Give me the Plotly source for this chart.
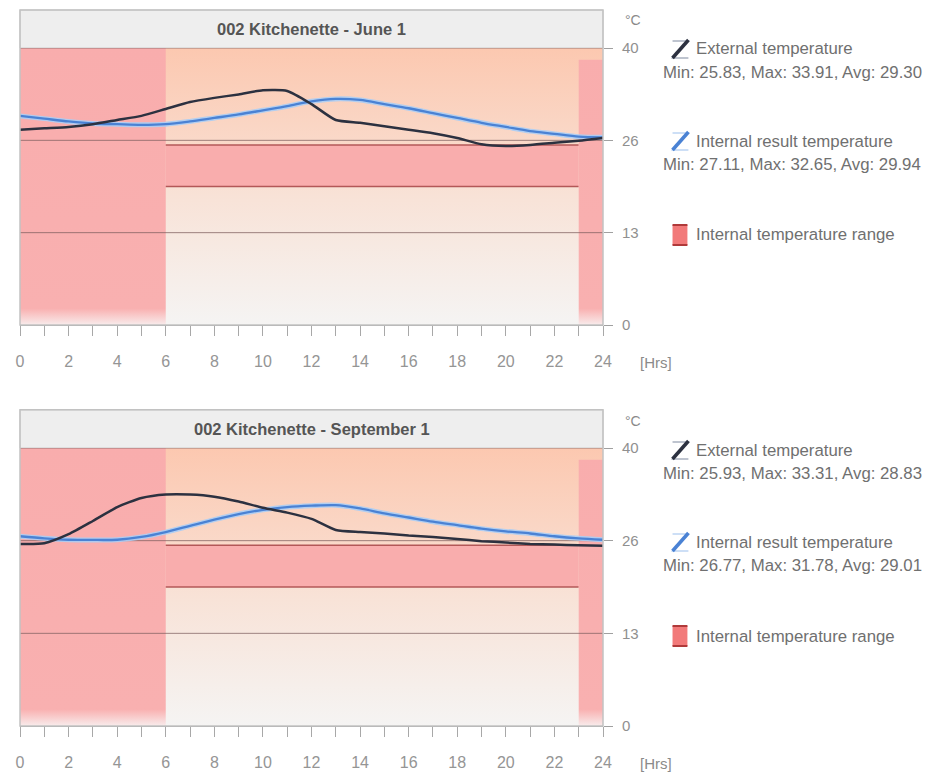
import plotly.graph_objects as go

# ---------------- data ----------------
HOURS = list(range(25))
EXT_JUNE = [28.2, 28.4, 28.6, 29.0, 29.6, 30.2, 31.2, 32.2, 32.8, 33.3, 33.9, 33.8, 31.9,
            29.6, 29.2, 28.7, 28.2, 27.7, 27.0, 26.1, 25.85, 26.0, 26.3, 26.6, 27.0]
INT_JUNE = [30.2, 29.8, 29.4, 29.1, 29.0, 28.9, 29.0, 29.4, 29.9, 30.4, 31.0, 31.6, 32.3,
            32.65, 32.5, 31.9, 31.3, 30.6, 29.9, 29.2, 28.6, 28.0, 27.6, 27.2, 27.1]
EXT_SEP = [26.2, 26.3, 27.6, 29.5, 31.5, 32.8, 33.3, 33.3, 33.0, 32.3, 31.4, 30.7, 29.8,
           28.2, 27.9, 27.7, 27.4, 27.2, 26.9, 26.6, 26.4, 26.2, 26.1, 26.0, 25.93]
INT_SEP = [27.3, 27.0, 26.8, 26.77, 26.8, 27.2, 27.9, 28.8, 29.7, 30.5, 31.1, 31.5, 31.7,
           31.78, 31.3, 30.6, 30.0, 29.4, 28.9, 28.4, 28.0, 27.7, 27.3, 27.0, 26.8]

RANGE_SEG_START = [0, 6, 23]
RANGE_SEG_END = [6, 23, 24]
RANGE_LOW = [0, 20, 0]
RANGE_HIGH = [40, 26, 38.3]

Y_MAX = 40
Y_TICKVALS = [0, 40 / 3, 80 / 3, 40]
Y_TICKTEXT = ["0", "13", "26", "40"]
X_TICKVALS = list(range(0, 25, 2))

PANELS = [
    dict(title="002 Kitchenette - June 1", ext=EXT_JUNE, intl=INT_JUNE,
         ext_stats="Min: 25.83, Max: 33.91, Avg: 29.30",
         int_stats="Min: 27.11, Max: 32.65, Avg: 29.94"),
    dict(title="002 Kitchenette - September 1", ext=EXT_SEP, intl=INT_SEP,
         ext_stats="Min: 25.93, Max: 33.31, Avg: 28.83",
         int_stats="Min: 26.77, Max: 31.78, Avg: 29.01"),
]

# ---------------- style ----------------
FONT = "Liberation Sans, Arial, sans-serif"
PINK = "#f9adad"
W, H = 932, 778
# page body has an 8px margin; margins are chosen so the plot area lands
# at page x 16..603 and page y 48..726
ML, MR, MT, MB = 8, 337, 40, 60
PW, PH = W - ML - MR, H - MT - MB


def PX(px):
    return (px - 8 - ML) / PW


def PY(py):
    return (H - MB - (py - 8)) / PH


fig = go.Figure()
domains = [[PY(325), 1.0], [0.0, PY(448)]]
offsets = [0, 401]

shapes = []
annotations = []

for i, p in enumerate(PANELS):
    xa = "x" if i == 0 else "x2"
    ya = "y" if i == 0 else "y2"
    xn = "xaxis" if i == 0 else "xaxis2"
    yn = "yaxis" if i == 0 else "yaxis2"
    off = offsets[i]

    # background gradient
    x0, x1 = RANGE_SEG_START[0], RANGE_SEG_END[-1]
    fig.add_trace(go.Scatter(
        x=[x0, x1, x1, x0, x0], y=[0, 0, Y_MAX, Y_MAX, 0], fill="toself", mode="none",
        fillgradient=dict(type="vertical", start=0, stop=Y_MAX,
                          colorscale=[[0, "#f5f4f3"], [0.45, "#f8e3d8"], [1, "#fcc8b0"]]),
        xaxis=xa, yaxis=ya, hoverinfo="skip", showlegend=False))

    # internal temperature range bands
    for s, e, lo, hi in zip(RANGE_SEG_START, RANGE_SEG_END, RANGE_LOW, RANGE_HIGH):
        if lo == 0:
            fg = dict(type="vertical", start=0, stop=Y_MAX,
                      colorscale=[[0, "#f8ecec"], [0.06, "#f9b0b0"], [1, PINK]])
            fig.add_trace(go.Scatter(
                x=[s, e, e, s, s], y=[lo, lo, hi, hi, lo], fill="toself", mode="none",
                fillgradient=fg, xaxis=xa, yaxis=ya, hoverinfo="skip", showlegend=False))
        else:
            fig.add_trace(go.Scatter(
                x=[s, e, e, s, s], y=[lo, lo, hi, hi, lo], fill="toself", mode="none",
                fillcolor=PINK, xaxis=xa, yaxis=ya, hoverinfo="skip", showlegend=False))
            for v in (lo, hi):
                fig.add_trace(go.Scatter(
                    x=[s, e], y=[v, v], mode="lines",
                    line=dict(color="#b35858", width=1.5),
                    xaxis=xa, yaxis=ya, hoverinfo="skip", showlegend=False))

    # grid lines
    for v in Y_TICKVALS[1:]:
        fig.add_trace(go.Scatter(
            x=[x0, x1], y=[v, v], mode="lines",
            line=dict(color="rgba(125,95,95,0.75)", width=1),
            xaxis=xa, yaxis=ya, hoverinfo="skip", showlegend=False))

    # internal result temperature (with halo)
    fig.add_trace(go.Scatter(
        x=HOURS, y=p["intl"], mode="lines",
        line=dict(color="rgba(170,205,245,0.9)", width=5, shape="spline", smoothing=0.8),
        xaxis=xa, yaxis=ya, hoverinfo="skip", showlegend=False))
    fig.add_trace(go.Scatter(
        x=HOURS, y=p["intl"], mode="lines", name="Internal result temperature",
        line=dict(color="#4a82d4", width=2.3, shape="spline", smoothing=0.8),
        xaxis=xa, yaxis=ya, showlegend=False))
    # external temperature
    fig.add_trace(go.Scatter(
        x=HOURS, y=p["ext"], mode="lines", name="External temperature",
        line=dict(color="#2c3140", width=2.5, shape="spline", smoothing=0.6),
        xaxis=xa, yaxis=ya, showlegend=False))

    # axes
    fig.update_layout(**{
        xn: dict(domain=[0, 1], range=[0, 24], anchor=ya, showgrid=False, zeroline=False,
                 showline=True, linecolor="#a0a0a0", linewidth=1,
                 tickvals=X_TICKVALS, ticks="outside", ticklen=10, tickcolor="#a8a8a8",
                 ticklabelstandoff=12,
                 tickfont=dict(family=FONT, size=16, color="#959595"),
                 minor=dict(dtick=1, tick0=0, ticks="outside", ticklen=10, tickcolor="#a8a8a8"),
                 fixedrange=True),
        yn: dict(domain=domains[i], range=[0, Y_MAX], anchor=xa, side="right",
                 showgrid=False, zeroline=False, showline=False,
                 tickvals=Y_TICKVALS, ticktext=Y_TICKTEXT, ticks="outside", ticklen=9,
                 tickcolor="#a0a0a0", ticklabelstandoff=6,
                 tickfont=dict(family=FONT, size=15, color="#909090"), fixedrange=True),
    })

    band_top = 1 + 38 / 277
    # title band
    shapes.append(dict(type="rect", xref=f"{xa} domain", yref=f"{ya} domain",
                       x0=0, x1=1, y0=1, y1=band_top, fillcolor="#eeeeee",
                       line=dict(color="#cfcfcf", width=1), layer="below"))
    # frame
    shapes.append(dict(type="rect", xref=f"{xa} domain", yref=f"{ya} domain",
                       x0=0, x1=1, y0=0, y1=band_top, fillcolor="rgba(0,0,0,0)",
                       line=dict(color="#c2c2c2", width=1.5), layer="above"))
    annotations.append(dict(text=p["title"], xref=f"{xa} domain", yref=f"{ya} domain",
                            x=0.5, y=(1 + band_top) / 2, showarrow=False,
                            font=dict(family=FONT, size=16.5, color="#555555", weight="bold"),
                            xanchor="center", yanchor="middle"))
    # unit and axis label
    annotations.append(dict(text="°C", xref="paper", yref="paper", x=PX(623), y=PY(20 + off),
                            showarrow=False, xanchor="left", yanchor="middle",
                            font=dict(family=FONT, size=14, color="#8a8a8a")))
    annotations.append(dict(text="[Hrs]", xref="paper", yref="paper", x=PX(638), y=PY(362 + off),
                            showarrow=False, xanchor="left", yanchor="middle",
                            font=dict(family=FONT, size=15, color="#8a8a8a")))

    # legend
    leg = [(49, "External temperature", p["ext_stats"], "#2c3140", "#7f8aa0"),
           (141, "Internal result temperature", p["int_stats"], "#4a82d4", "#9cc0ee")]
    for yc, label, stats, dark, light in leg:
        yc = yc + off
        shapes.append(dict(type="path", xref="paper", yref="paper",
                           path=f"M {PX(673)},{PY(yc-8)} L {PX(689)},{PY(yc-8)} L {PX(673)},{PY(yc+9)} L {PX(689)},{PY(yc+9)}",
                           line=dict(color=light, width=1.2)))
        shapes.append(dict(type="line", xref="paper", yref="paper",
                           x0=PX(673), y0=PY(yc + 9), x1=PX(689), y1=PY(yc - 9),
                           line=dict(color=dark, width=3.5)))
        annotations.append(dict(text=label, xref="paper", yref="paper", x=PX(695), y=PY(yc),
                                showarrow=False, xanchor="left", yanchor="middle",
                                font=dict(family=FONT, size=16.8, color="#707070")))
        annotations.append(dict(text=stats, xref="paper", yref="paper", x=PX(661), y=PY(yc + 23),
                                showarrow=False, xanchor="left", yanchor="middle",
                                font=dict(family=FONT, size=16.8, color="#707070")))
    yc = 235 + off
    shapes.append(dict(type="rect", xref="paper", yref="paper",
                       x0=PX(673), x1=PX(688), y0=PY(yc + 10), y1=PY(yc - 10),
                       fillcolor="#f27a7a", line=dict(width=0)))
    for yy in (yc - 10, yc + 10):
        shapes.append(dict(type="line", xref="paper", yref="paper",
                           x0=PX(673), x1=PX(688), y0=PY(yy), y1=PY(yy),
                           line=dict(color="#b03a3a", width=2)))
    annotations.append(dict(text="Internal temperature range", xref="paper", yref="paper",
                            x=PX(695), y=PY(yc), showarrow=False, xanchor="left",
                            yanchor="middle", font=dict(family=FONT, size=16.8, color="#707070")))

fig.update_layout(
    width=W, height=H,
    margin=dict(l=ML, r=MR, t=MT, b=MB, pad=0),
    paper_bgcolor="white", plot_bgcolor="white",
    shapes=shapes, annotations=annotations, showlegend=False,
    font=dict(family=FONT),
)

fig.write_html("out.html")
